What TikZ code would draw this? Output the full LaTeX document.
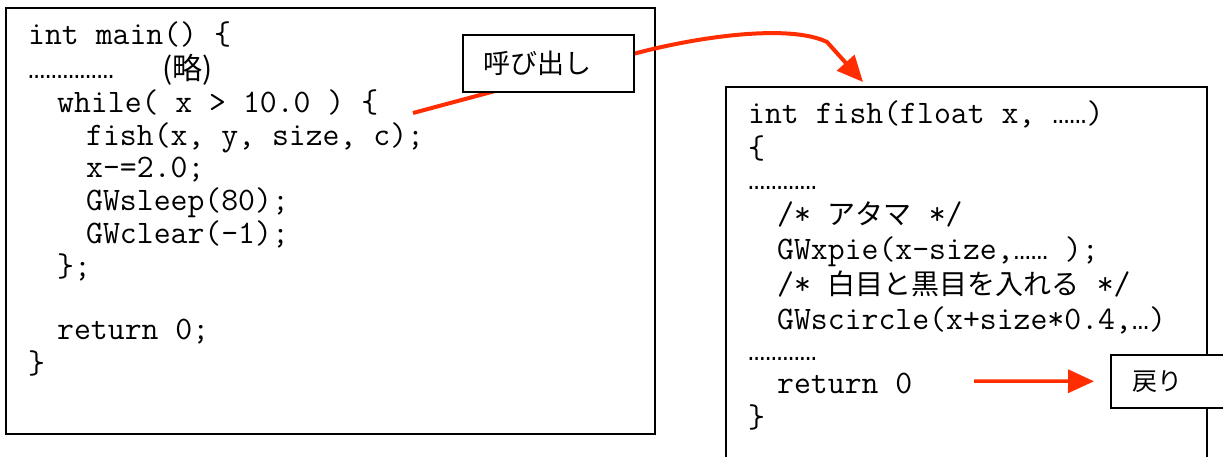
\documentclass[tikz,border=0pt]{standalone}
\usepackage{fontspec}
\usetikzlibrary{arrows.meta}
\newfontfamily\dotfont{Liberation Mono}
\newfontfamily\jpfont{Noto Sans CJK JP}
\definecolor{callred}{RGB}{255,45,0}

\tikzset{
  codebox/.style={draw=black, line width=1.6pt},
  codeline/.style={anchor=base west, inner sep=0pt,
    font=\ttfamily\fontsize{32.8}{36}\selectfont},
  tagbox/.style={draw=black, line width=1.6pt, fill=white, anchor=north west,
    align=left, inner ysep=0pt},
  redline/.style={draw=callred, line width=4pt},
  redtip/.style={-{Triangle[length=26pt,width=23pt]}}
}
\newcommand{\jp}[1]{{\jpfont\fontsize{28}{30}\selectfont #1}}
\newcommand{\dd}[1]{{\dotfont\fontsize{28.6}{30}\selectfont #1}}

\begin{document}
\begin{tikzpicture}[x=1pt,y=-1pt]
\useasboundingbox (0,0) rectangle (1223,456);
\clip (0,0) rectangle (1223,456);

% caller listing
\draw[codebox] (6,8) rectangle (655,434);
\node[codeline] (m1) at (28,44) {int main() \{};
\node[codeline] (m2) at (28,78) {\dd{……………}};
\node[codeline, font=\jpfont\fontsize{30}{32}\selectfont] (m2b) at (162,79) {(略)};
\node[codeline] (m3) at (57,112) {while( x > 10.0 ) \{};
\node[codeline] (m4) at (86,145) {fish(x, y, size, c);};
\node[codeline] (m5) at (86,177) {x-=2.0;};
\node[codeline] (m6) at (86,210) {GWsleep(80);};
\node[codeline] (m7) at (86,243) {GWclear(-1);};
\node[codeline] (m8) at (57,276) {\};};
\node[codeline] (m9) at (57,339) {return 0;};
\node[codeline] (m10) at (28,373) {\}};

% callee listing
\draw[codebox] (726,87) rectangle (1207,480);
\node[codeline] (f1) at (748,123) {int fish(float x, \dd{……})};
\node[codeline] (f2) at (748,158) {\{};
\node[codeline] (f3) at (748,189) {\dd{…………}};
\node[codeline] (f4) at (777,224) {/* \jp{アタマ} */};
\node[codeline] (f5) at (777,259) {GWxpie(x-size,\dd{……} );};
\node[codeline] (f6) at (777,294) {/* \jp{白目と黒目を入れる} */};
\node[codeline] (f7) at (777,329) {GWscircle(x+size*0.4,\dd{…})};
\node[codeline] (f8) at (748,360) {\dd{…………}};
\node[codeline] (f9) at (777,393) {return 0};
\node[codeline] (f10) at (748,427) {\}};

% call arrow
\coordinate (callsite) at (413,113);
\coordinate (exitpt) at (633,54);
\coordinate (bend) at (827,42);
\coordinate (fishin) at (863,82);
\draw[redline, redtip] (callsite) -- (exitpt)
  .. controls (700,36) and (790,24) .. (bend) -- (fishin);
\node[tagbox, text width=129pt, inner xsep=21pt, minimum height=57pt,
  font=\jpfont\fontsize{27}{30}\selectfont] (call) at (462,34) {呼び出し};

% return arrow
\coordinate (retsrc) at (974,381);
\node[tagbox, text width=86pt, inner xsep=22pt, minimum height=53pt,
  font=\jpfont\fontsize{25}{30}\selectfont] (back) at (1110,354) {戻り};
\draw[redline, line width=3.5pt, redtip] (retsrc) -- ([xshift=-16pt]back.west);
\end{tikzpicture}
\end{document}
